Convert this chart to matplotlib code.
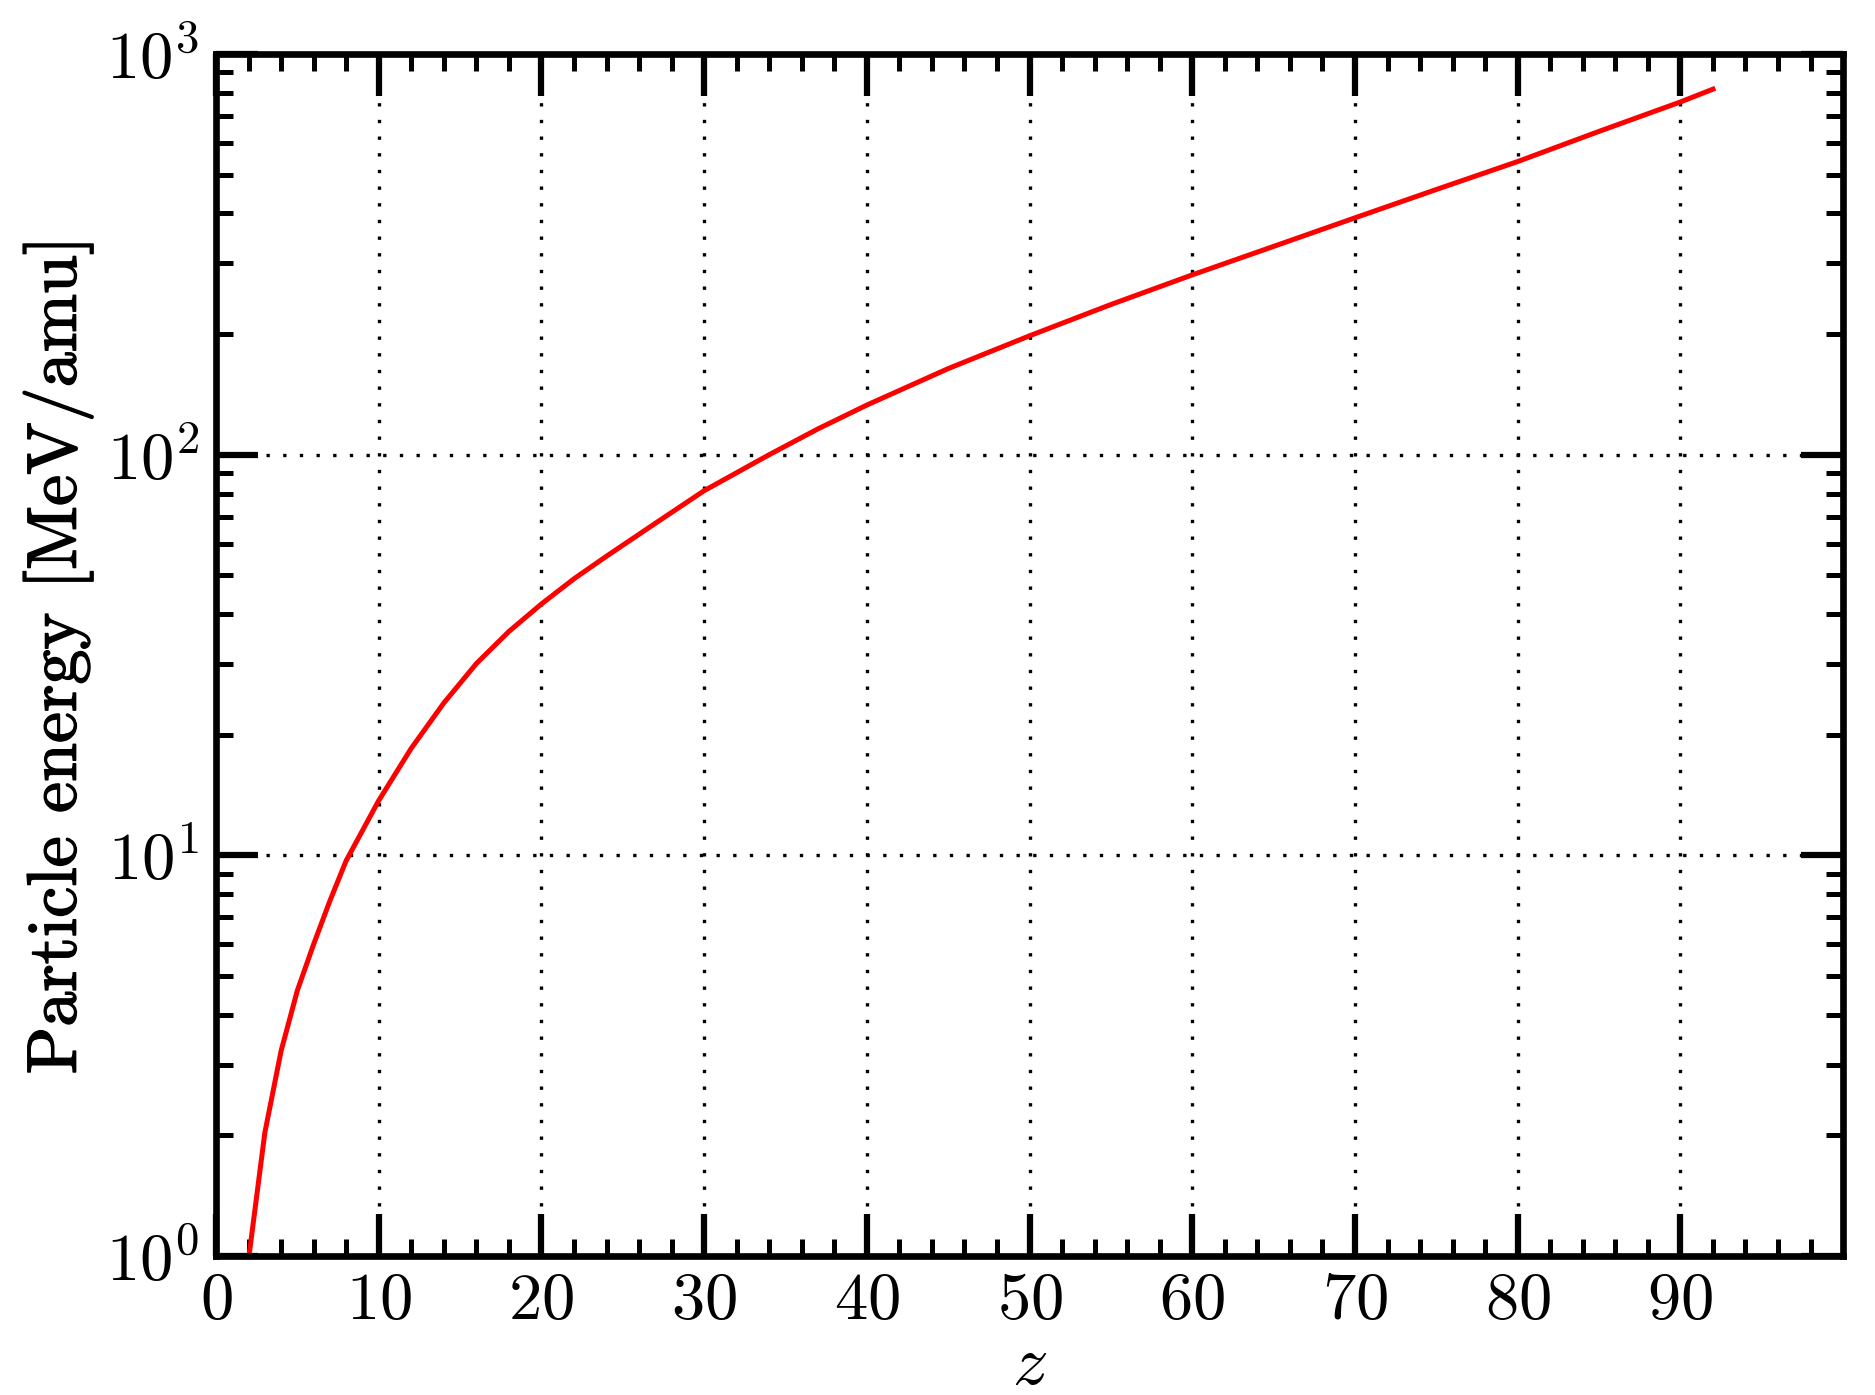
import matplotlib
matplotlib.use("Agg")
import matplotlib.pyplot as plt
import matplotlib.patheffects as pe
from matplotlib.ticker import MultipleLocator, LogLocator, NullFormatter

# values
z_values = [2, 3, 4, 5, 6, 7, 8, 10, 12, 14, 16, 18, 20, 22, 24, 27,
            30, 34, 37, 40, 45, 50, 55, 60, 65, 70, 75, 80, 85, 90, 92]
energy_mev_amu = [0.98, 2.03, 3.25, 4.6, 6.0, 7.7, 9.7, 13.7, 18.5, 24.0,
                  30.1, 36.2, 42.4, 49.0, 55.8, 67.4, 81.3, 100.0, 116.0,
                  133.0, 164.0, 198.0, 237.0, 281.0, 331.0, 390.0, 459.0,
                  539.0, 641.0, 759.0, 817.0]
x_ticks = list(range(0, 100, 10))

plt.rcParams["font.family"] = "serif"
plt.rcParams["font.serif"] = ["cmr10", "DejaVu Serif"]
plt.rcParams["mathtext.fontset"] = "cm"
plt.rcParams["axes.formatter.use_mathtext"] = True

fig = plt.figure(figsize=(6.25, 4.65), dpi=300)
ax = fig.add_axes([0.1152, 0.0996, 0.983 - 0.1152, 0.9613 - 0.0996])

ax.plot(z_values, energy_mev_amu, color="red", lw=1.2)

ax.set_yscale("log")
ax.set_xlim(0, 100)
ax.set_ylim(1, 1000)
ax.set_xticks(x_ticks)
ax.xaxis.set_minor_locator(MultipleLocator(2))
ax.yaxis.set_minor_locator(LogLocator(base=10, subs=range(2, 10)))
ax.yaxis.set_minor_formatter(NullFormatter())

ax.grid(True, which="major", color="black",
        linestyle=(0, (1, 4)), lw=0.8)

ax.tick_params(which="both", direction="in", top=True, right=True,
               labelsize=16)
ax.tick_params(which="major", length=10, width=1.5, pad=4)
ax.tick_params(which="minor", length=4, width=1.2)

for spine in ax.spines.values():
    spine.set_linewidth(1.6)

ax.set_xlabel(r"$z$", fontsize=17, labelpad=0.5)
ylab = ax.set_ylabel("Particle energy [MeV/amu]", fontsize=16.8,
                     labelpad=3)
ylab.set_path_effects([pe.withStroke(linewidth=0.35, foreground="black")])

fig.savefig("out.png", dpi=300)
plt.close(fig)
